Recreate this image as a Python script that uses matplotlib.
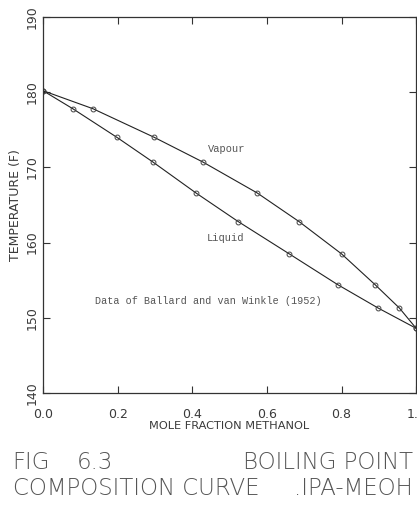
import matplotlib
matplotlib.use("Agg")

import matplotlib.pyplot as plt

# liquid (bubble point) curve
x_liquid = [0.0, 0.08, 0.198, 0.295, 0.41, 0.523, 0.66, 0.79, 0.898, 1.0]
t_liquid = [180.2, 177.8, 174.0, 170.7, 166.6, 162.8, 158.5, 154.4, 151.3, 148.6]

# vapour (dew point) curve
x_vapour = [0.0, 0.134, 0.298, 0.429, 0.574, 0.686, 0.80, 0.89, 0.955, 1.0]
t_vapour = [180.2, 177.8, 174.0, 170.7, 166.6, 162.8, 158.5, 154.4, 151.3, 148.6]

x_ticks = [0.0, 0.2, 0.4, 0.6, 0.8, 1.0]
x_tick_labels = ["0.0", "0.2", "0.4", "0.6", "0.8", "1.0"]
y_ticks = [140, 150, 160, 170, 180, 190]
y_tick_labels = ["140", "150", "160", "170", "180", "190"]

ink = "#3a3a3a"
plot_font = "DejaVu Sans"
note_font = ["Liberation Mono", "DejaVu Sans Mono"]

fig = plt.figure(figsize=(4.17, 5.24), dpi=100)
ax = fig.add_axes([0.103, 0.25, 0.895, 0.7176])

for xs, ts in [(x_liquid, t_liquid), (x_vapour, t_vapour)]:
    ax.plot(xs, ts, color="#222222", lw=0.8, marker="o", ms=3.5,
            mfc="none", mec="#444444", mew=0.7)

ax.set_xlim(0, 1.0)
ax.set_ylim(140, 190)
ax.set_xticks(x_ticks)
ax.set_xticklabels(x_tick_labels, fontsize=9, color=ink, family=plot_font)
ax.set_yticks(y_ticks)
ax.set_yticklabels(y_tick_labels, fontsize=9, color=ink, family=plot_font,
                   rotation=90, va="center")
ax.tick_params(direction="in", length=5, width=0.8, color="#333333",
               top=True, right=True)
ax.tick_params(axis="x", pad=11)
ax.tick_params(axis="y", pad=3)
for s in ax.spines.values():
    s.set_color("#333333")
    s.set_linewidth(0.9)

ax.set_xlabel("MOLE FRACTION METHANOL", fontsize=8.2, color=ink,
              family=plot_font, labelpad=0)
ax.set_ylabel("TEMPERATURE (F)", fontsize=9, color=ink, family=plot_font,
              labelpad=3)

ax.text(0.442, 172.0, "Vapour", fontsize=7.5, color="#555555",
        family=note_font)
ax.text(0.44, 160.2, "Liquid", fontsize=7.5, color="#555555",
        family=note_font)
ax.text(0.14, 151.9, "Data of Ballard and van Winkle (1952)", fontsize=7.3,
        color="#555555", family=note_font)

# caption under the chart
cap = dict(fontsize=16.5, color="#555555", family=plot_font,
           fontweight="light", va="center")
fig.text(0.03, 0.118, "FIG", ha="left", **cap)
fig.text(0.185, 0.118, "6.3", ha="left", **cap)
fig.text(0.99, 0.118, "BOILING POINT", ha="right", **cap)
fig.text(0.03, 0.068, "COMPOSITION CURVE", ha="left", **cap)
fig.text(0.99, 0.068, ".IPA-MEOH", ha="right", **cap)

fig.savefig("out.png", dpi=100)
plt.close(fig)
